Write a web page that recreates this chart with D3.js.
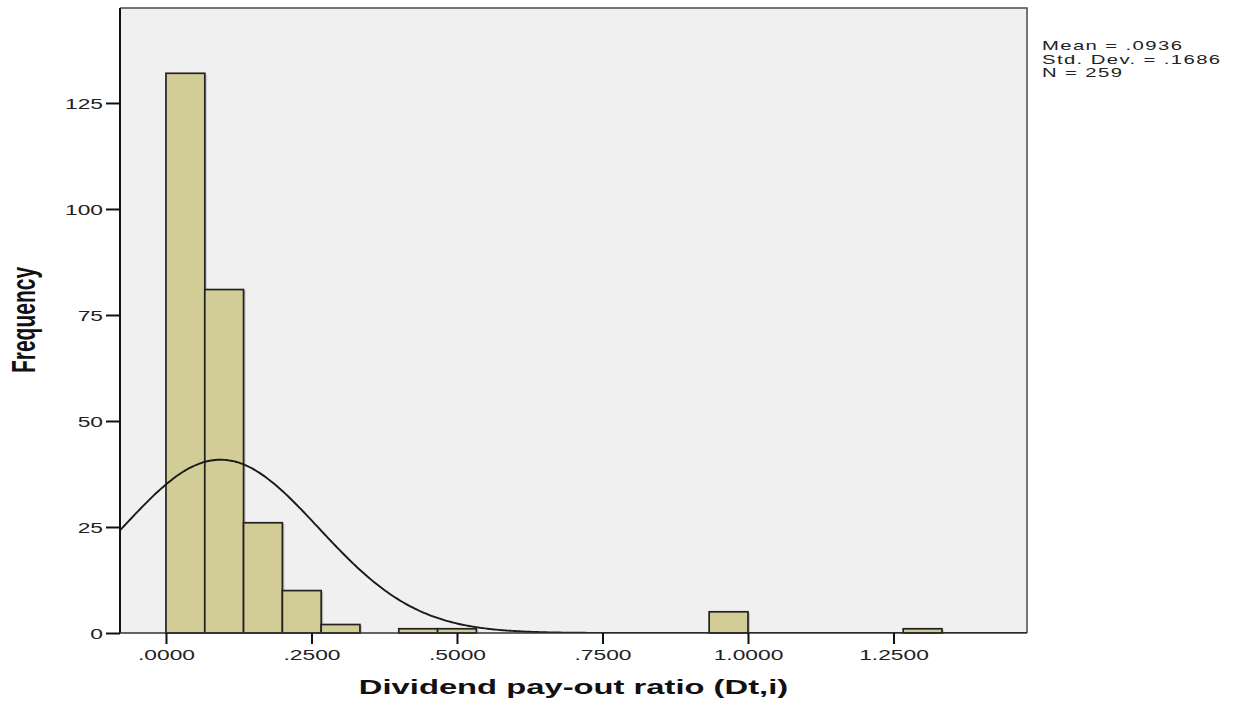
<!DOCTYPE html>
<html>
<head>
<meta charset="utf-8">
<script src="https://cdn.jsdelivr.net/npm/d3@7"></script>
<style>
  html, body { margin: 0; padding: 0; background: #ffffff; }
  svg { display: block; }
</style>
</head>
<body>
<svg id="chart" width="1242" height="704"></svg>
<script>
// Histogram bins of the dividend pay-out ratio (lower edge, upper edge, count)
const binLower = [0.0000, 0.0667, 0.1333, 0.2000, 0.2667, 0.4000, 0.4667, 0.9333, 1.2667];
const binUpper = [0.0667, 0.1333, 0.2000, 0.2667, 0.3333, 0.4667, 0.5333, 1.0000, 1.3333];
const binCounts = [132, 81, 26, 10, 2, 1, 1, 5, 1];

// Summary statistics shown beside the plot and used for the normal curve
const statMean = 0.0936;
const statSd = 0.1686;
const statN = 259;
const binWidth = 0.0667;

const xTicks = [0, 0.25, 0.5, 0.75, 1.0, 1.25];
const xTickLabels = [".0000", ".2500", ".5000", ".7500", "1.0000", "1.2500"];
const yTicks = [0, 25, 50, 75, 100, 125];

const xTitle = "Dividend pay-out ratio (Dt,i)";
const yTitle = "Frequency";

const svg = d3.select("#chart");
const FONT = "'Liberation Sans', Arial, sans-serif";
const SX = 1.52; // horizontal stretch of the text glyphs

const plot = { left: 120, right: 1027, top: 8, bottom: 633 };

const x = d3.scaleLinear().domain([-0.079, 1.4794]).range([plot.left, plot.right]);
const y = d3.scaleLinear().domain([0, 147.4]).range([plot.bottom, plot.top]);

// plot background
svg.append("rect")
  .attr("x", plot.left).attr("y", plot.top)
  .attr("width", plot.right - plot.left).attr("height", plot.bottom - plot.top)
  .attr("fill", "#f0f0f0");

svg.append("defs").append("clipPath").attr("id", "plotClip")
  .append("rect")
  .attr("x", plot.left).attr("y", plot.top)
  .attr("width", plot.right - plot.left).attr("height", plot.bottom - plot.top);

const bins = binCounts.map((c, i) => ({ x0: binLower[i], x1: binUpper[i], count: c }));

// soft shadow on the right of each bar
svg.append("g").selectAll("rect").data(bins).join("rect")
  .attr("x", d => x(d.x0) + 2)
  .attr("y", d => y(d.count) + 1)
  .attr("width", d => x(d.x1) - x(d.x0))
  .attr("height", d => y(0) - y(d.count) - 1)
  .attr("fill", "#8c8c8c")
  .attr("opacity", 0.45);

// bars
svg.append("g").selectAll("rect").data(bins).join("rect")
  .attr("x", d => x(d.x0))
  .attr("y", d => y(d.count))
  .attr("width", d => x(d.x1) - x(d.x0))
  .attr("height", d => y(0) - y(d.count))
  .attr("fill", "#d2cd96")
  .attr("stroke", "#222222")
  .attr("stroke-width", 1.7);

// fitted normal curve, scaled to the histogram counts
const normal = v => statN * binWidth / (statSd * Math.sqrt(2 * Math.PI)) *
  Math.exp(-0.5 * Math.pow((v - statMean) / statSd, 2));
const curveXs = d3.range(0, 401).map(i => x.domain()[0] + (x.domain()[1] - x.domain()[0]) * i / 400);
svg.append("path")
  .datum(curveXs)
  .attr("clip-path", "url(#plotClip)")
  .attr("fill", "none")
  .attr("stroke", "#1a1a1a")
  .attr("stroke-width", 1.9)
  .attr("d", d3.line().x(d => x(d)).y(d => y(normal(d))).curve(d3.curveBasis));

// frame: top and right edges
svg.append("path")
  .attr("d", `M${plot.left},${plot.top}H${plot.right}V${plot.bottom}`)
  .attr("fill", "none")
  .attr("stroke", "#4a4a4a")
  .attr("stroke-width", 1.5);

// axes
const yAxis = svg.append("g")
  .attr("transform", `translate(${plot.left},0)`)
  .call(d3.axisLeft(y).tickValues(yTicks).tickSize(14).tickPadding(3).tickFormat(d3.format("d")));
const xAxis = svg.append("g")
  .attr("transform", `translate(0,${plot.bottom})`)
  .call(d3.axisBottom(x).tickValues(xTicks).tickSize(11).tickPadding(4)
    .tickFormat((d, i) => xTickLabels[i]));

[yAxis, xAxis].forEach(g => {
  g.select(".domain").attr("stroke", "#111").attr("stroke-width", 2);
  g.selectAll(".tick line").attr("stroke", "#111").attr("stroke-width", 2);
});
xAxis.select(".domain").attr("d", `M${plot.left},0H${plot.right}`).attr("stroke", "#333").attr("stroke-width", 1.6);
yAxis.select(".domain").attr("d", `M0,${plot.top}V${plot.bottom}`);

// tick labels drawn with a horizontal stretch
yAxis.selectAll(".tick text").each(function () {
  const t = d3.select(this);
  t.attr("x", null).attr("dy", null).attr("y", null)
    .attr("transform", `translate(-17,5.5) scale(${SX},1)`)
    .attr("text-anchor", "end")
    .attr("font-family", FONT).attr("font-size", 15).attr("fill", "#222");
});
xAxis.selectAll(".tick text").each(function () {
  const t = d3.select(this);
  t.attr("y", null).attr("dy", null)
    .attr("transform", `translate(0,26.5) scale(${SX},1)`)
    .attr("text-anchor", "middle")
    .attr("font-family", FONT).attr("font-size", 15).attr("fill", "#222");
});

// axis titles
svg.append("text")
  .attr("transform", `translate(${(plot.left + plot.right) / 2},694) scale(1.56,1)`)
  .attr("text-anchor", "middle")
  .attr("font-family", FONT).attr("font-weight", "bold").attr("font-size", 21)
  .attr("fill", "#111")
  .text(xTitle);

svg.append("text")
  .attr("transform", `translate(35,320) scale(1.56,1) rotate(-90)`)
  .attr("text-anchor", "middle")
  .attr("font-family", FONT).attr("font-weight", "bold").attr("font-size", 21)
  .attr("fill", "#111")
  .text(yTitle);

// statistics text beside the plot
const statLines = [
  "Mean = " + d3.format(".4f")(statMean).replace(/^0/, ""),
  "Std. Dev. = " + d3.format(".4f")(statSd).replace(/^0/, ""),
  "N = " + statN
];
svg.append("g").selectAll("text").data(statLines).join("text")
  .attr("transform", (d, i) => `translate(1042,${50 + i * 13.5}) scale(1.56,1)`)
  .attr("font-family", FONT).attr("font-size", 13).attr("letter-spacing", 0.9)
  .attr("fill", "#222")
  .text(d => d);
</script>
</body>
</html>
